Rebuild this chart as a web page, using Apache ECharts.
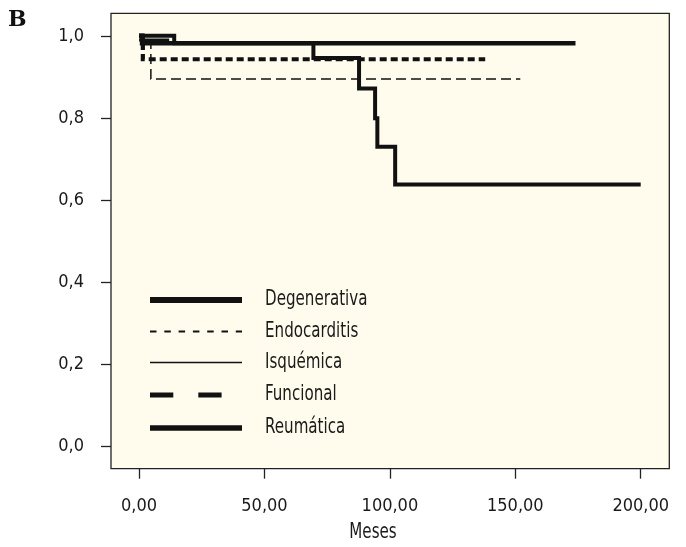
<!DOCTYPE html>
<html>
<head>
<meta charset="utf-8">
<script src="https://cdn.jsdelivr.net/npm/echarts@6/dist/echarts.min.js"></script>
<style>
html,body{margin:0;padding:0;background:#fff;}
#c{width:686px;height:547px;}
</style>
</head>
<body>
<div id="c"></div>
<script>
// Kaplan-Meier curves (time in months, cumulative survival)
const degTime  = [0, 1.2, 174];
const degSurv  = [1.0, 0.982, 0.982];
const endoTime = [0, 4.7, 152];
const endoSurv = [1.0, 0.895, 0.895];
const isqTime  = [0, 12];
const isqSurv  = [0.99, 0.99];
const funcTime = [0, 1.5, 138];
const funcSurv = [1.0, 0.943, 0.943];
const reumTime = [0, 14, 69.5, 87.7, 94.1, 95.0, 102.1, 200];
const reumSurv = [1.0, 0.982, 0.946, 0.872, 0.799, 0.730, 0.638, 0.638];

const seriesNames = ['Degenerativa', 'Endocarditis', 'Isquémica', 'Funcional', 'Reumática'];
const xTicks = [0, 50, 100, 150, 200];
const yTicks = [0, 0.2, 0.4, 0.6, 0.8, 1.0];
const xTitle = 'Meses';
const panelLabel = 'B';

const FONT = "'Liberation Sans Narrow','DejaVu Sans Condensed','Arial Narrow',sans-serif";
const INK = '#111';
const TXT = '#1a1a1a';

function pairs(t, s) { return t.map((v, i) => [v, s[i]]); }

const styles = [
  { width: 4.6, type: 'solid' },
  { width: 1.5, type: [10, 5] },
  { width: 3.0, type: 'solid' },
  { width: 4.2, type: [7, 4] },
  { width: 4.0, type: 'solid' }
];
const datas = [
  pairs(degTime, degSurv),
  pairs(endoTime, endoSurv),
  pairs(isqTime, isqSurv),
  pairs(funcTime, funcSurv),
  pairs(reumTime, reumSurv)
];

// legend drawn with its own line styles (as in the reference)
const legendStyles = [
  { lineWidth: 6, lineDash: null, x2: 242 },
  { lineWidth: 2, lineDash: [6.5, 7.8], x2: 242 },
  { lineWidth: 1.3, lineDash: null, x2: 242 },
  { lineWidth: 5, lineDash: [23.3, 25], x2: 222 },
  { lineWidth: 5.5, lineDash: null, x2: 242 }
];
const legendY = [300, 331.5, 362.5, 395, 428];
const legendGraphics = [];
seriesNames.forEach((n, i) => {
  const ls = legendStyles[i];
  legendGraphics.push({
    type: 'line', silent: true,
    shape: { x1: 150, y1: legendY[i], x2: ls.x2, y2: legendY[i] },
    style: { stroke: INK, lineWidth: ls.lineWidth, lineDash: ls.lineDash }
  });
  legendGraphics.push({
    type: 'text', silent: true, x: 265, y: legendY[i], scaleX: 0.8,
    style: { text: n, font: '21px ' + FONT, fill: TXT, verticalAlign: 'middle', align: 'left' }
  });
});
legendGraphics.push({
  type: 'text', silent: true, x: 373, y: 533, scaleX: 0.8,
  style: { text: xTitle, font: '21px ' + FONT, fill: TXT, verticalAlign: 'middle', align: 'center' }
});
legendGraphics.push({
  type: 'text', silent: true, x: 8, y: 20,
  style: { text: panelLabel, font: "bold 22px 'DejaVu Serif','Liberation Serif',serif", fill: '#111', verticalAlign: 'middle', align: 'left' }
});

const chart = echarts.init(document.getElementById('c'), null, { renderer: 'canvas' });
chart.setOption({
  animation: false,
  backgroundColor: '#ffffff',
  grid: {
    left: 111, top: 13.3, right: 16.7, bottom: 78.3,
    show: true, backgroundColor: '#FFFCEE', borderColor: '#222', borderWidth: 1.3
  },
  xAxis: {
    type: 'value', min: -11.2, max: 211.4,
    axisLine: { show: false, onZero: false },
    splitLine: { show: false },
    axisTick: { show: true, inside: false, length: 10, lineStyle: { color: '#222', width: 1.3 }, customValues: xTicks },
    axisLabel: {
      customValues: xTicks, margin: 29, fontFamily: FONT, fontSize: 18, color: TXT,
      formatter: v => v.toFixed(2).replace('.', ',')
    }
  },
  yAxis: {
    type: 'value', min: -0.055, max: 1.055,
    axisLine: { show: false, onZero: false },
    splitLine: { show: false },
    axisTick: { show: true, inside: false, length: 10, lineStyle: { color: '#222', width: 1.3 }, customValues: yTicks },
    axisLabel: {
      customValues: yTicks, margin: 27, fontFamily: FONT, fontSize: 18, color: TXT,
      formatter: v => v.toFixed(1).replace('.', ',')
    }
  },
  series: seriesNames.map((n, i) => ({
    name: n, type: 'line', step: 'end', data: datas[i],
    symbol: 'none', silent: true,
    lineStyle: { color: INK, width: styles[i].width, type: styles[i].type, cap: 'butt', join: 'miter' }
  })),
  graphic: legendGraphics
});
</script>
</body>
</html>
